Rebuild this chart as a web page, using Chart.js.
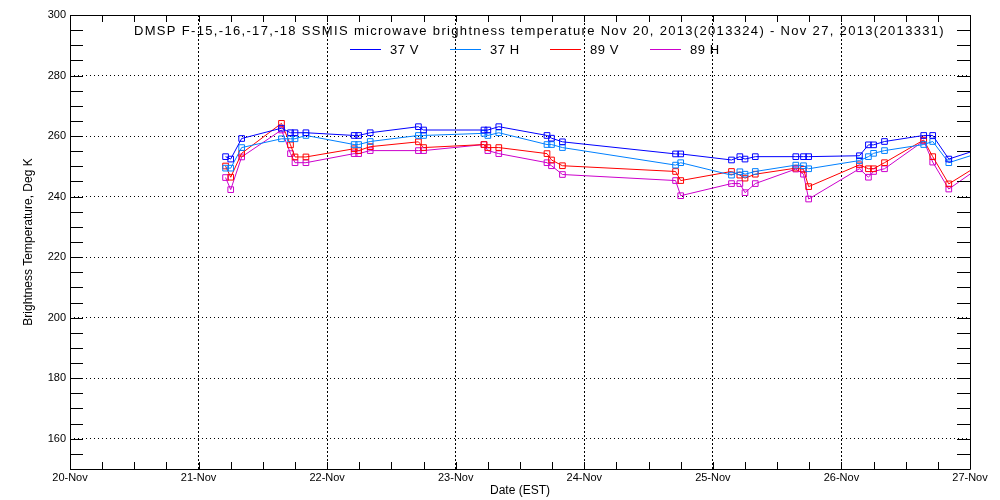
<!DOCTYPE html>
<html>
<head>
<meta charset="utf-8">
<script src="https://cdn.jsdelivr.net/npm/chart.js@4.4.1/dist/chart.umd.min.js"></script>
<style>
    body { margin: 0; background: #fff; }
    #wrap { width: 1000px; height: 500px; }
</style>
</head>
<body>
<div id="wrap"><canvas id="chart" width="1000" height="500"></canvas></div>
<script>
// Data (x = days since 20-Nov-2013 00:00 EST)
const titleText = 'DMSP F-15,-16,-17,-18 SSMIS microwave brightness temperature Nov 20, 2013(2013324) - Nov 27, 2013(2013331)';
const xTickLabels = ['20-Nov', '21-Nov', '22-Nov', '23-Nov', '24-Nov', '25-Nov', '26-Nov', '27-Nov'];
const seriesLabels = ['37 V', '37 H', '89 V', '89 H'];
const seriesColors = ['#0000ff', '#0080ff', '#ff0000', '#cc00cc'];

const times = [
    1.21, 1.25, 1.335, 1.645, 1.715, 1.75, 1.835,
    2.21, 2.245, 2.335, 2.71, 2.75,
    3.22, 3.25, 3.335, 3.71, 3.745, 3.83,
    4.71, 4.75,
    5.145, 5.21, 5.25, 5.33, 5.645, 5.705, 5.745,
    6.14, 6.21, 6.25, 6.335, 6.64, 6.71, 6.835,
    7.21
];
const tb37V = [
    253.2, 252.4, 259.2, 262.6, 261.1, 261.1, 261.1,
    260.2, 260.2, 261.1, 263.1, 262.0,
    262.0, 262.0, 263.1, 260.2, 259.3, 258.1,
    254.1, 254.1,
    252.1, 253.2, 252.4, 253.2, 253.2, 253.2, 253.2,
    253.5, 257.1, 257.1, 258.2, 260.2, 260.2, 252.4,
    257.6
];
const tb37H = [
    249.4, 249.4, 256.2, 259.1, 259.1, 259.1, 260.2,
    257.2, 257.2, 258.2, 260.2, 260.2,
    260.9, 260.2, 261.1, 257.2, 257.2, 256.2,
    250.4, 251.2,
    247.1, 248.2, 247.4, 248.3, 250.4, 250.2, 249.2,
    251.9, 253.2, 254.3, 255.2, 257.2, 258.2, 251.2,
    256.3
];
const tb89V = [
    250.1, 246.4, 254.3, 264.2, 257.1, 253.1, 253.1,
    255.8, 255.2, 256.5, 258.1, 256.2,
    257.2, 256.2, 256.2, 254.2, 252.1, 250.2,
    248.3, 245.3,
    248.3, 247.1, 246.1, 247.4, 249.4, 249.0, 243.3,
    250.5, 249.2, 249.2, 251.2, 258.7, 253.2, 244.2,
    254.1
];
const tb89H = [
    246.3, 242.3, 253.1, 262.0, 254.2, 251.2, 251.2,
    254.2, 254.2, 255.2, 255.2, 255.2,
    257.2, 255.2, 254.2, 251.2, 250.2, 247.3,
    245.3, 240.3,
    244.3, 244.3, 241.3, 244.3, 249.1, 247.4, 239.2,
    249.2, 246.4, 248.3, 249.2, 258.4, 251.4, 242.5,
    253.7
];
const seriesValues = [tb37V, tb37H, tb89V, tb89H];

// Frame, inward ticks, title and legend drawn like the IDL plot
const idlFrame = {
    id: 'idlFrame',
    afterDraw(chart) {
        const ctx = chart.ctx;
        const area = chart.chartArea;
        const xs = chart.scales.x;
        const ys = chart.scales.y;
        ctx.save();
        ctx.strokeStyle = '#000';
        ctx.lineWidth = 1;
        ctx.beginPath();
        ctx.rect(Math.round(area.left) + 0.5, Math.round(area.top) + 0.5,
            Math.round(area.right - area.left), Math.round(area.bottom - area.top));
        ctx.stroke();

        ctx.beginPath();
        ys.ticks.forEach(t => {
            const y = Math.round(ys.getPixelForValue(t.value)) + 0.5;
            ctx.moveTo(area.left, y); ctx.lineTo(area.left + 13, y);
            ctx.moveTo(area.right, y); ctx.lineTo(area.right - 13, y);
        });
        xs.ticks.forEach(t => {
            const x = Math.round(xs.getPixelForValue(t.value)) + 0.5;
            ctx.moveTo(x, area.bottom); ctx.lineTo(x, area.bottom - 7);
            ctx.moveTo(x, area.top); ctx.lineTo(x, area.top + 7);
        });
        ctx.stroke();

        // title
        ctx.fillStyle = '#000';
        ctx.font = '13px "Liberation Sans", Arial, sans-serif';
        ctx.textBaseline = 'middle';
        ctx.textAlign = 'left';
        const target = 811;
        const w = ctx.measureText(titleText).width;
        if ('letterSpacing' in ctx) {
            ctx.letterSpacing = ((target - w) / titleText.length) + 'px';
            ctx.fillText(titleText, 134, 31);
            ctx.letterSpacing = '0.6px';
        } else {
            ctx.save();
            ctx.translate(134, 31);
            ctx.scale(target / w, 1);
            ctx.fillText(titleText, 0, 0);
            ctx.restore();
        }

        // legend
        seriesLabels.forEach((label, i) => {
            const x0 = 350 + i * 100;
            ctx.fillStyle = seriesColors[i];
            ctx.fillRect(x0, 49, 31, 1);
            ctx.fillStyle = '#000';
            ctx.fillText(label, x0 + 40, 50);
        });
        ctx.restore();
    }
};

const datasets = seriesLabels.map((label, i) => ({
    label: label,
    data: times.map((t, j) => ({ x: t, y: seriesValues[i][j] })),
    borderColor: seriesColors[i],
    backgroundColor: 'transparent',
    borderWidth: 1,
    pointStyle: 'rect',
    pointRadius: 4,
    pointBorderWidth: 1,
    pointBackgroundColor: 'transparent',
    pointBorderColor: seriesColors[i],
    tension: 0,
    fill: false
}));

const tickFont = { family: '"Liberation Sans", Arial, sans-serif', size: 11 };

new Chart(document.getElementById('chart'), {
    type: 'line',
    data: { datasets },
    options: {
        responsive: false,
        animation: false,
        layout: { padding: { top: 15, right: 30, left: 0, bottom: 0 } },
        plugins: {
            legend: { display: false },
            title: { display: false },
            tooltip: { enabled: false }
        },
        scales: {
            x: {
                type: 'linear',
                min: 0,
                max: 7,
                afterFit(scale) { scale.height = 31; },
                ticks: {
                    stepSize: 0.25,
                    autoSkip: false,
                    maxRotation: 0,
                    padding: 2,
                    color: '#000',
                    font: tickFont,
                    callback: v => Number.isInteger(v) ? xTickLabels[v] : ''
                },
                grid: {
                    drawTicks: false,
                    color: c => (c.tick && Number.isInteger(c.tick.value)) ? '#000' : 'transparent',
                    lineWidth: 1
                },
                border: { display: false, dash: [2, 2] },
                title: {
                    display: true,
                    text: 'Date (EST)',
                    color: '#000',
                    font: { family: '"Liberation Sans", Arial, sans-serif', size: 12 },
                    padding: { top: 0, bottom: 2 }
                }
            },
            y: {
                min: 150,
                max: 300,
                afterFit(scale) { scale.width = 70; },
                ticks: {
                    stepSize: 5,
                    autoSkip: false,
                    padding: 4,
                    color: '#000',
                    font: tickFont,
                    callback: v => v % 20 === 0 ? v : ''
                },
                grid: {
                    drawTicks: false,
                    color: c => (c.tick && c.tick.value % 20 === 0) ? '#000' : 'transparent',
                    lineWidth: 1
                },
                border: { display: false, dash: [1, 3] },
                title: {
                    display: true,
                    text: 'Brightness Temperature, Deg K',
                    color: '#000',
                    font: { family: '"Liberation Sans", Arial, sans-serif', size: 12 },
                    padding: { top: 21, bottom: 0 }
                }
            }
        }
    },
    plugins: [idlFrame]
});
</script>
</body>
</html>
